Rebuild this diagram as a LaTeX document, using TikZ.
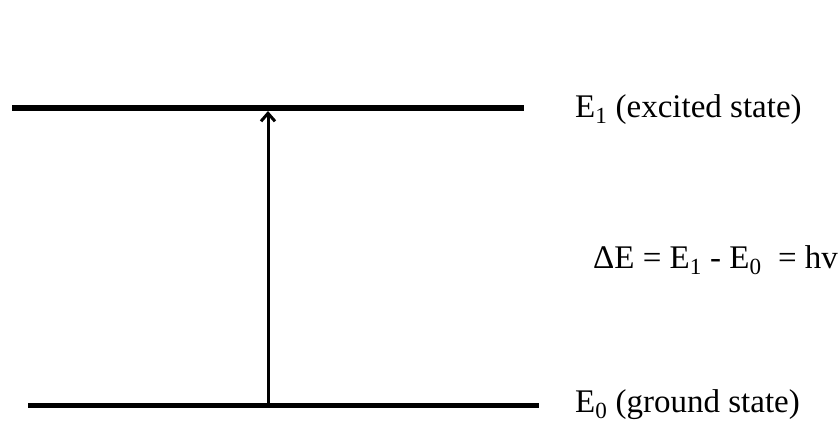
\documentclass[tikz,border=0pt]{standalone}
\usepackage{fontspec}
\setmainfont{Liberation Serif}
\usetikzlibrary{positioning, arrows.meta}

\begin{document}
\begin{tikzpicture}[
  x=1pt, y=-1pt,
  level/.style={line width=5.5pt},
  arr/.style={-{Straight Barb[length=8pt, width=14pt]}, line width=3pt},
  lbl/.style={anchor=base west, inner sep=0pt, font=\fontsize{33}{36}\selectfont},
]
\useasboundingbox (0,0) rectangle (838,424);

% === Energy levels ===
\coordinate (e1l) at (12,108);
\coordinate (e1r) at (524,108);
\coordinate (e0l) at (28,405.5);
\coordinate (e0r) at (539,405.5);
\draw[level] (e1l) -- (e1r);
\draw[level] (e0l) -- (e0r);

% Transition (absorption)
\coordinate (up0) at (268,405);
\coordinate (up1) at (268,111);
\draw[arr] (up0) -- (up1);

% === Labels ===
\node[lbl] (e1lbl) at (575,117) {E\textsubscript{1} (excited state)};
\node[lbl] (delta) at (593,268) {ΔE = E\textsubscript{1} - E\textsubscript{0} \ = hv};
\node[lbl] (e0lbl) at (575,412) {E\textsubscript{0} (ground state)};

\end{tikzpicture}
\end{document}
